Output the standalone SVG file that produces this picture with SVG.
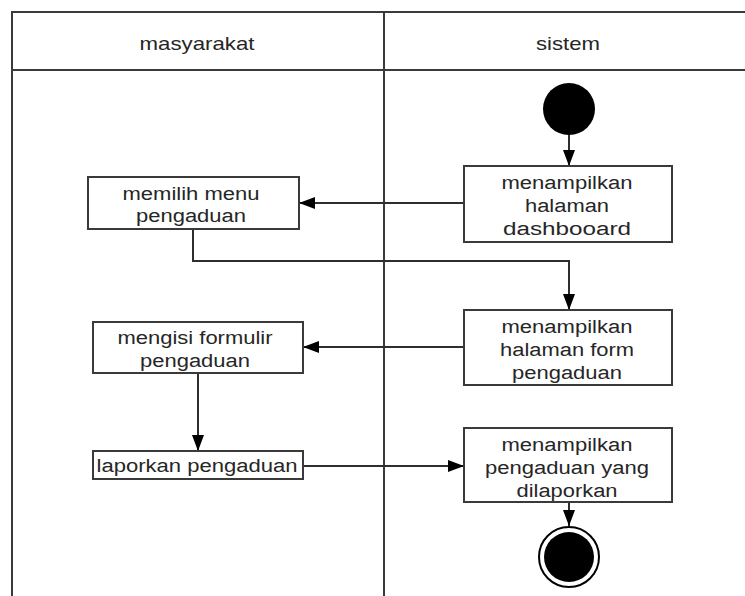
<svg xmlns="http://www.w3.org/2000/svg" width="745" height="596" viewBox="0 0 745 596">
  <style>
    .lane { fill: none; stroke: #3a3a3a; stroke-width: 2; }
    .box { fill: #ffffff; stroke: #3a3a3a; stroke-width: 2; }
    .edge { fill: none; stroke: #2e2e2e; stroke-width: 2; marker-end: url(#arrow); }
    text { font-family: "Liberation Sans", Arial, sans-serif; fill: #262626; text-anchor: middle; }
    .lbl { font-size: 18px; }
    .hdr { font-size: 19px; }
  </style>
  <defs>
    <marker id="arrow" markerUnits="userSpaceOnUse" markerWidth="17" markerHeight="12" refX="16" refY="6" orient="auto">
      <path d="M0,0 L16,6 L0,12 Z" fill="#000000"/>
    </marker>
  </defs>

  <!-- swimlane frame -->
  <g id="swimlanes">
    <path class="lane" d="M12,596 V12 H745"/>
    <path class="lane" d="M12,70 H745"/>
    <path class="lane" d="M384,12 V596"/>
    <text class="hdr" x="197" y="50" textLength="115" lengthAdjust="spacingAndGlyphs">masyarakat</text>
    <text class="hdr" x="568" y="50" textLength="64" lengthAdjust="spacingAndGlyphs">sistem</text>
  </g>

  <!-- connectors -->
  <g id="connectors">
    <path class="edge" d="M569,135 V166"/>
    <path class="edge" d="M464,203 H299"/>
    <path class="edge" d="M193,229 V261 H569 V310"/>
    <path class="edge" d="M464,347 H303"/>
    <path class="edge" d="M198,373 V451"/>
    <path class="edge" d="M303,466 H464"/>
    <path class="edge" d="M569,502 V526"/>
  </g>

  <g id="start">
    <circle cx="569" cy="109" r="26" fill="#000000"/>
  </g>

  <g id="tampil-dashboard">
    <rect class="box" x="464" y="166" width="208" height="76"/>
    <text class="lbl" x="567" y="189" textLength="131" lengthAdjust="spacingAndGlyphs">menampilkan</text>
    <text class="lbl" x="567" y="212" textLength="84" lengthAdjust="spacingAndGlyphs">halaman</text>
    <text class="lbl" x="567" y="235" textLength="128" lengthAdjust="spacingAndGlyphs">dashbooard</text>
  </g>

  <g id="pilih-menu">
    <rect class="box" x="88" y="177" width="211" height="52"/>
    <text class="lbl" x="191" y="200" textLength="137" lengthAdjust="spacingAndGlyphs">memilih menu</text>
    <text class="lbl" x="191" y="222" textLength="110" lengthAdjust="spacingAndGlyphs">pengaduan</text>
  </g>

  <g id="tampil-form">
    <rect class="box" x="464" y="310" width="208" height="75"/>
    <text class="lbl" x="567" y="333" textLength="131" lengthAdjust="spacingAndGlyphs">menampilkan</text>
    <text class="lbl" x="567" y="356" textLength="134" lengthAdjust="spacingAndGlyphs">halaman form</text>
    <text class="lbl" x="567" y="379" textLength="110" lengthAdjust="spacingAndGlyphs">pengaduan</text>
  </g>

  <g id="isi-formulir">
    <rect class="box" x="93" y="322" width="210" height="51"/>
    <text class="lbl" x="195" y="344" textLength="155" lengthAdjust="spacingAndGlyphs">mengisi formulir</text>
    <text class="lbl" x="195" y="367" textLength="110" lengthAdjust="spacingAndGlyphs">pengaduan</text>
  </g>

  <g id="laporkan">
    <rect class="box" x="93" y="451" width="210" height="28"/>
    <text class="lbl" x="197" y="472" textLength="201" lengthAdjust="spacingAndGlyphs">laporkan pengaduan</text>
  </g>

  <g id="tampil-laporan">
    <rect class="box" x="464" y="428" width="208" height="74"/>
    <text class="lbl" x="567" y="451" textLength="131" lengthAdjust="spacingAndGlyphs">menampilkan</text>
    <text class="lbl" x="567" y="474" textLength="164" lengthAdjust="spacingAndGlyphs">pengaduan yang</text>
    <text class="lbl" x="567" y="497" textLength="101" lengthAdjust="spacingAndGlyphs">dilaporkan</text>
  </g>

  <g id="end">
    <circle cx="569" cy="557" r="30" fill="#ffffff" stroke="#000000" stroke-width="2"/>
    <circle cx="569" cy="557" r="25" fill="#000000"/>
  </g>
</svg>
